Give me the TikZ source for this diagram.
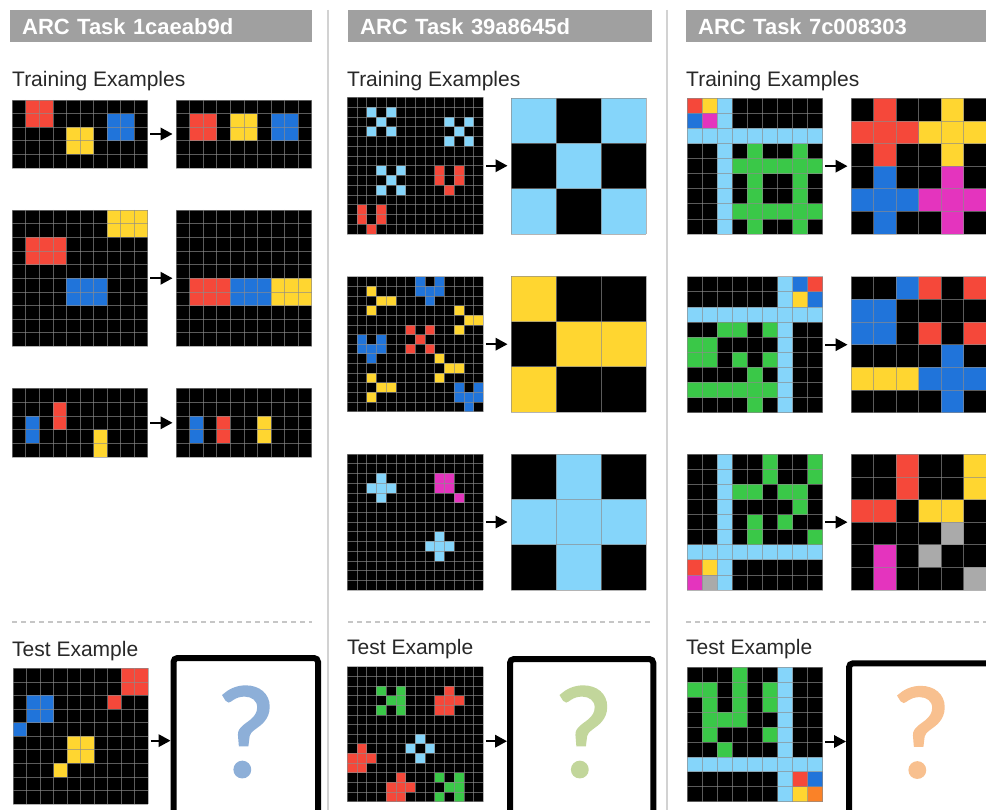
\documentclass[tikz,border=0pt]{standalone}
\usepackage{fontspec}
\setmainfont{Liberation Sans}
\newfontfamily\qfont[FakeBold=1.5]{Carlito}
\usetikzlibrary{arrows.meta}

\definecolor{arc0}{RGB}{0,0,0}
\definecolor{arc1}{RGB}{32,116,218}
\definecolor{arc2}{RGB}{245,72,58}
\definecolor{arc3}{RGB}{58,200,72}
\definecolor{arc4}{RGB}{255,214,48}
\definecolor{arc5}{RGB}{170,170,170}
\definecolor{arc6}{RGB}{228,52,190}
\definecolor{arc7}{RGB}{250,130,40}
\definecolor{arc8}{RGB}{133,213,250}
\definecolor{headgray}{RGB}{160,160,160}
\definecolor{textdark}{RGB}{40,40,40}
\definecolor{qblue}{RGB}{141,175,216}
\definecolor{qgreen}{RGB}{194,214,155}
\definecolor{qorange}{RGB}{248,192,143}

\newcount\gcol
\newcount\grow
\makeatletter
\def\arccells#1{\gcol=0 \arc@cells#1\relax}
\def\arc@cells#1{\ifx\relax#1\else\ifnum#1>0 \fill[arc#1] (\the\gcol,\the\grow) rectangle ++(1,1);\fi\advance\gcol by 1 \expandafter\arc@cells\fi}
\makeatother

% name, x, y, w, h, ncols, nrows, rows
\newcommand\arcgrid[8]{%
  \node[gridbox, minimum width=#4pt, minimum height=#5pt, anchor=north west] (#1) at (#2,#3) {};
  \pgfmathsetmacro\arccw{#4/#6}\pgfmathsetmacro\arcch{#5/#7}%
  \begin{scope}[shift={(#2,#3)}, x=\arccw pt, y=-\arcch pt]
    \foreach \rowstr [count=\ri from 0] in {#8} {\global\grow=\ri\relax \expandafter\arccells\expandafter{\rowstr}}
    \foreach \i in {0,...,#6} \draw[gridline] (\i,0) -- (\i,#7);
    \foreach \j in {0,...,#7} \draw[gridline] (0,\j) -- (#6,\j);
  \end{scope}}

\begin{document}
\begin{tikzpicture}[x=1pt,y=-1pt,
  gridbox/.style={fill=black, inner sep=0pt, outer sep=0pt, draw=none},
  gridline/.style={draw=white!55!black, line width=0.7pt, opacity=0.65},
  arr/.style={line width=2pt, -{Triangle[length=12pt,width=12.5pt]}, shorten <=2.5pt, shorten >=3.5pt},
  header/.style={fill=headgray, text=white, font=\fontsize{22}{26}\selectfont\bfseries, anchor=north west, minimum height=32pt, inner xsep=12pt, inner ysep=0pt, align=left},
  sectlabel/.style={font=\fontsize{21}{25}\selectfont, text=textdark, anchor=base west, inner sep=0pt},
  sepline/.style={draw=gray!35, line width=1.5pt},
  dashsep/.style={draw=gray!45, line width=1.2pt, dash pattern=on 5pt off 4pt},
  testbox/.style={draw=black, line width=6pt, rounded corners=4pt, anchor=north west, inner sep=0pt, outer sep=0pt, fill=white},
  qmark/.style={font=\qfont\fontsize{132}{136}\selectfont, inner sep=0pt, anchor=base}
]
\useasboundingbox (0,0) rectangle (986,810);
\clip (0,0) rectangle (986,810);
\fill[white] (0,0) rectangle (986,810);

% separators
\draw[sepline] (328,10) -- (328,810);
\draw[sepline] (667,10) -- (667,810);
\draw[dashsep] (12,622) -- (312,622);
\draw[dashsep] (348,622) -- (650,622);
\draw[dashsep] (686,622) -- (986,622);

% headers
\node[header, text width=278pt] (h1) at (10,10) {ARC Task 1caeab9d};
\node[header, text width=280pt] (h2) at (348,10) {ARC Task 39a8645d};
\node[header, text width=280pt] (h3) at (686,10) {ARC Task 7c008303};

\node[sectlabel] (tr1) at (12,87) {Training Examples};
\node[sectlabel] (tr2) at (347,87) {Training Examples};
\node[sectlabel] (tr3) at (686,87) {Training Examples};
\node[sectlabel] (te1) at (12,656) {Test Example};
\node[sectlabel] (te2) at (347,654) {Test Example};
\node[sectlabel] (te3) at (686,654) {Test Example};

% ---------- Task 1 ----------
\arcgrid{t1ain}{12.3}{100}{135.4}{68}{10}{5}{0220000000,0220000110,0000440110,0000440000,0000000000}
\arcgrid{t1aout}{176}{100}{135.7}{68}{10}{5}{0000000000,0220440110,0220440110,0000000000,0000000000}
\draw[arr] (t1ain.east) -- (t1ain.east -| t1aout.west);

\arcgrid{t1bin}{12.3}{210}{135.4}{136.5}{10}{10}{0000000444,0000000444,0222000000,0222000000,0000000000,0000111000,0000111000,0000000000,0000000000,0000000000}
\arcgrid{t1bout}{176}{210}{135.7}{136.5}{10}{10}{0000000000,0000000000,0000000000,0000000000,0000000000,0222111444,0222111444,0000000000,0000000000,0000000000}
\draw[arr] (t1bin.east) -- (t1bin.east -| t1bout.west);

\arcgrid{t1cin}{12.3}{388.3}{135.4}{69}{10}{5}{0000000000,0002000000,0102000000,0100004000,0000004000}
\arcgrid{t1cout}{176}{388.3}{135.7}{69}{10}{5}{0000000000,0000000000,0102004000,0102004000,0000000000}
\draw[arr] (t1cin.east) -- (t1cin.east -| t1cout.west);

\arcgrid{t1tin}{13.3}{668.3}{135}{135.7}{10}{10}{0000000022,0000000022,0110000200,0110000000,1000000000,0000440000,0000440000,0004000000,0000000000,0000000000}
\node[testbox, minimum width=144.5pt, minimum height=190pt] (box1) at (173.5,658) {};
\node[qmark, text=qblue] (q1) at (246,776.5) {?};
\draw[arr, shorten >=3pt] ([yshift=-4.5pt]t1tin.east) -- ([yshift=-4.5pt]t1tin.east -| box1.west);

% ---------- Task 2 ----------
\arcgrid{t2ain}{347.3}{97.5}{136}{136.5}{14}{14}{00000000000000,00808000000000,00080000008080,00808000000800,00000000008080,00000000000000,00000000000000,00080800020200,00008000020200,00080800002000,00000000000000,02020000000000,02020000000000,00200000000000}
\arcgrid{t2aout}{511}{98}{135}{136}{3}{3}{808,080,808}
\draw[arr] (t2ain.east) -- (t2ain.east -| t2aout.west);

\arcgrid{t2bin}{347.3}{276.7}{136}{135}{14}{14}{00000001010000,00400001110000,00044000100000,00400000000400,00000000000044,00000020200400,01010002000000,01110020200000,00100000040000,00000000004400,00400000040000,00044000000101,00400000000111,00000000000010}
\arcgrid{t2bout}{511}{276.5}{135}{135.5}{3}{3}{400,044,400}
\draw[arr] (t2bin.east) -- (t2bin.east -| t2bout.west);

\arcgrid{t2cin}{347.3}{454}{136}{136}{14}{14}{00000000000000,00000000000000,00080000066000,00888000066000,00080000000600,00000000000000,00000000000000,00000000000000,00000000080000,00000000888000,00000000080000,00000000000000,00000000000000,00000000000000}
\arcgrid{t2cout}{511}{454}{135}{136}{3}{3}{080,888,080}
\draw[arr] (t2cin.east) -- (t2cin.east -| t2cout.west);

\arcgrid{t2tin}{347.3}{666.7}{136}{135}{14}{14}{00000000000000,00000000000000,00030300002000,00003300022200,00030300022000,00000000000000,00000000000000,00000008000000,02000080800000,22200008000000,22000000000000,00000200030300,00002220003300,00002200030300}
\node[testbox, minimum width=143.3pt, minimum height=190pt] (box2) at (510,659) {};
\node[qmark, text=qgreen] (q2) at (583.5,776.5) {?};
\draw[arr, shorten >=3pt] ([yshift=-7pt]t2tin.east) -- ([yshift=-7pt]t2tin.east -| box2.west);

% ---------- Task 3 ----------
\arcgrid{t3ain}{687.3}{98.3}{135.4}{135.7}{9}{9}{248000000,168000000,888888888,008030030,008333333,008030030,008030030,008333333,008030030}
\arcgrid{t3aout}{851}{98.3}{135}{135.7}{6}{6}{020040,222444,020040,010060,111666,010060}
\draw[arr] (t3ain.east) -- (t3ain.east -| t3aout.west);

\arcgrid{t3bin}{687.3}{276.7}{135.4}{136}{9}{9}{000000812,000000841,888888888,003303800,330000800,330303800,000030800,333333800,000030800}
\arcgrid{t3bout}{851}{276.7}{135}{136}{6}{6}{001202,110000,110202,000010,444111,000010}
\draw[arr] (t3bin.east) -- (t3bin.east -| t3bout.west);

\arcgrid{t3cin}{687.3}{454.3}{135.4}{135.7}{9}{9}{008003003,008003003,008330330,008000030,008030300,008030003,888888888,248000000,658000000}
\arcgrid{t3cout}{851}{454.3}{135}{135.7}{6}{6}{002004,002004,220440,000050,060500,060005}
\draw[arr] (t3cin.east) -- (t3cin.east -| t3cout.west);

\arcgrid{t3tin}{687.3}{667.3}{135.4}{134.4}{9}{9}{000300800,330303800,030303800,033300800,030003800,003000800,888888888,000000821,000000847}
\node[testbox, minimum width=160pt, minimum height=190pt] (box3) at (849,663.3) {};
\node[qmark, text=qorange] (q3) at (921,777) {?};
\draw[arr, shorten >=3pt] ([yshift=-7pt]t3tin.east) -- ([yshift=-7pt]t3tin.east -| box3.west);
\end{tikzpicture}
\end{document}
